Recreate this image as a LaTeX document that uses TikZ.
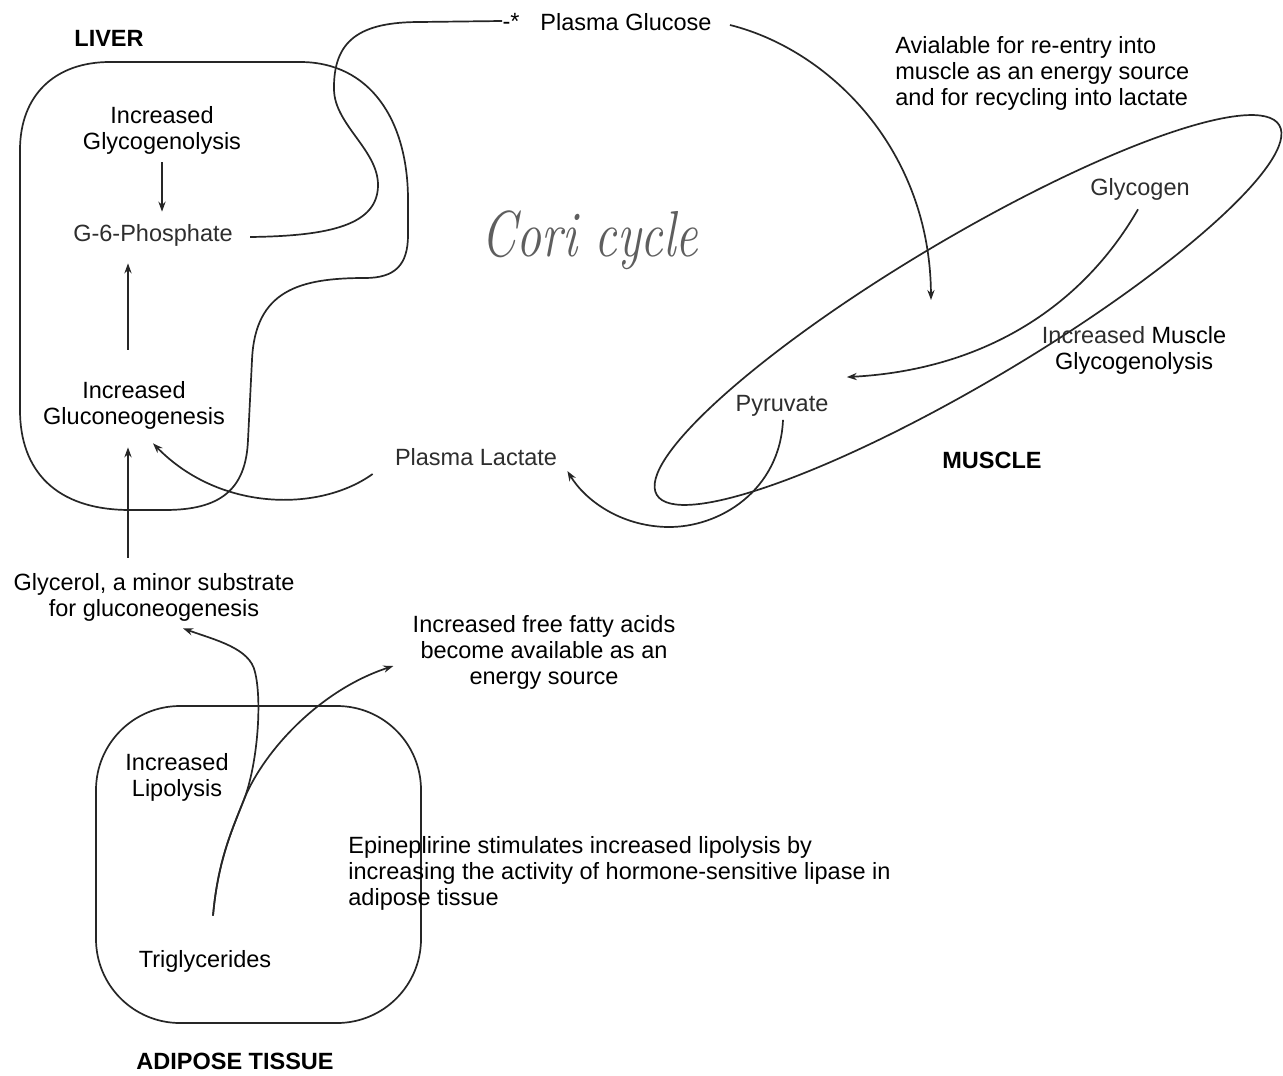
\documentclass[tikz,border=0pt]{standalone}
\usepackage{fontspec}
\setsansfont{Liberation Sans}
\usetikzlibrary{arrows.meta,calc}
\definecolor{ink}{HTML}{262626}
\definecolor{scan}{HTML}{2E2E2E}
\definecolor{pencil}{HTML}{5E5E5E}

\begin{document}
\begin{tikzpicture}[x=0.5pt,y=-0.5pt,
  line/.style={draw=ink,line width=0.85pt},
  arr/.style={line,-{Stealth[length=5pt,width=3.6pt]}},
  lbl/.style={inner sep=0pt,font=\sffamily\fontsize{11.75}{13}\selectfont,align=center},
  dim/.style={lbl,text=scan},
  organ/.style={inner sep=0pt,font=\sffamily\fontsize{11.75}{13}\selectfont\bfseries},
]
\fill[white] (0,0) rectangle (1283,1075);
\useasboundingbox (0,0) rectangle (1283,1075);

% ---------- liver ----------
\draw[line] (110,62) -- (300,62)
  .. controls (370,62) and (408,120) .. (408,200) -- (408,235)
  .. controls (408,265) and (395,278) .. (365,278)
  .. controls (300,278) and (255,290) .. (252,360) -- (248,440)
  .. controls (246,490) and (220,510) .. (165,510) -- (130,510)
  .. controls (55,510) and (20,470) .. (20,410) -- (20,150)
  .. controls (20,95) and (55,62) .. (110,62) -- cycle;

\node[organ] (liverlbl) at (109,38) {LIVER};
\node[lbl] (gly) at (162,130) {Increased\\Glycogenolysis};
\node[dim] (g6p) at (153,235) {G-6-Phosphate};
\node[lbl] (glucneo) at (134,405) {Increased\\Gluconeogenesis};
\node[lbl] (glycerol) at (154,597) {Glycerol, a minor substrate\\for gluconeogenesis};

% ---------- blood ----------
\node[dim] (lactate) at (476,457) {Plasma Lactate};
\node[lbl] (star) at (511,21) {-*};
\node[lbl] (glucose) at (626,22) {Plasma Glucose};
\node[inner sep=0pt,text=pencil,font=\fontsize{25}{30}\selectfont\itshape] (cori) at (590,240) {\scalebox{1}[1.3]{Cori cycle}};

% ---------- muscle ----------
\draw[line,rotate around={30.7:(968,310)}] (968,310) ellipse [x radius=181pt, y radius=36pt];
\node[lbl,align=left,anchor=west] (avail) at (895,73) {Avialable for re-entry into\\muscle as an energy source\\and for recycling into lactate};
\node[dim] (glycogen) at (1140,189) {Glycogen};
\node[lbl] (mglyco) at (1134,350) {{\color{scan}Increased} Muscle\\Glycogenolysis};
\node[dim] (pyruvate) at (782,406) {Pyruvate};
\node[organ] (musclelbl) at (992,460) {MUSCLE};
\coordinate (entry) at (931,300);

% ---------- adipose tissue ----------
\node[line,rounded corners=42pt,minimum width=162.5pt,minimum height=158.5pt,inner sep=0pt] (adipose) at (258.5,864.5) {};
\node[lbl] (lipolysis) at (177,777) {Increased\\Lipolysis};
\node[lbl] (tg) at (205,961) {Triglycerides};
\node[lbl] (ffa) at (544,652) {Increased free fatty acids\\become available as an\\energy source};
\node[lbl,align=left,anchor=west] (epi) at (348,873) {Epineplirine stimulates increased lipolysis by\\increasing the activity of hormone-sensitive lipase in\\adipose tissue};
\node[organ] (adiposelbl) at (235,1061) {ADIPOSE TISSUE};

% ---------- connectors ----------
\draw[arr,shorten <=4pt,shorten >=6pt] (gly.south) -- (gly.south |- g6p.north);
\draw[arr] ($(glucneo.north)+(-6,-31)$) -- ($(g6p.south)+(-25,17)$);
\draw[arr] ($(glycerol.north)+(-26,-15)$) -- ($(glucneo.south)+(-6,18)$);
\draw[arr] ($(lactate.west)+(-22,17)$) .. controls (320,512) and (220,512) .. ($(glucneo.south)+(19,14)$);
\draw[arr] ($(pyruvate.south)+(1,3)$) .. controls (780,490) and (720,528) .. (667,527)
  .. controls (620,526) and (585,500) .. ($(lactate.east)+(10,14)$);
\draw[arr] ($(glycogen.south)+(-2,9)$) .. controls (1080,310) and (980,370) .. ($(pyruvate.north east)+(18,-18)$);
\draw[line] ($(g6p.east)+(17,2)$) .. controls (330,236) and (378,225) .. (378,185)
  .. controls (378,150) and (335,125) .. (334,90)
  .. controls (333,40) and (360,22) .. (420,22) -- (star.west);
\draw[arr] ($(glucose.east)+(18,3)$) .. controls (830,50) and (930,150) .. (entry);
\draw[arr] ($(tg.north)+(8,-34)$) .. controls (218,860) and (232,830) .. (245,797)
  .. controls (258,760) and (262,700) .. (255,672)
  .. controls (250,648) and (215,640) .. ($(glycerol.south)+(29,7)$);
\draw[arr] ($(tg.north)+(8,-34)$) .. controls (218,860) and (232,830) .. (245,797)
  .. controls (265,750) and (320,690) .. ($(ffa.west)+(-19,14)$);
\end{tikzpicture}
\end{document}
